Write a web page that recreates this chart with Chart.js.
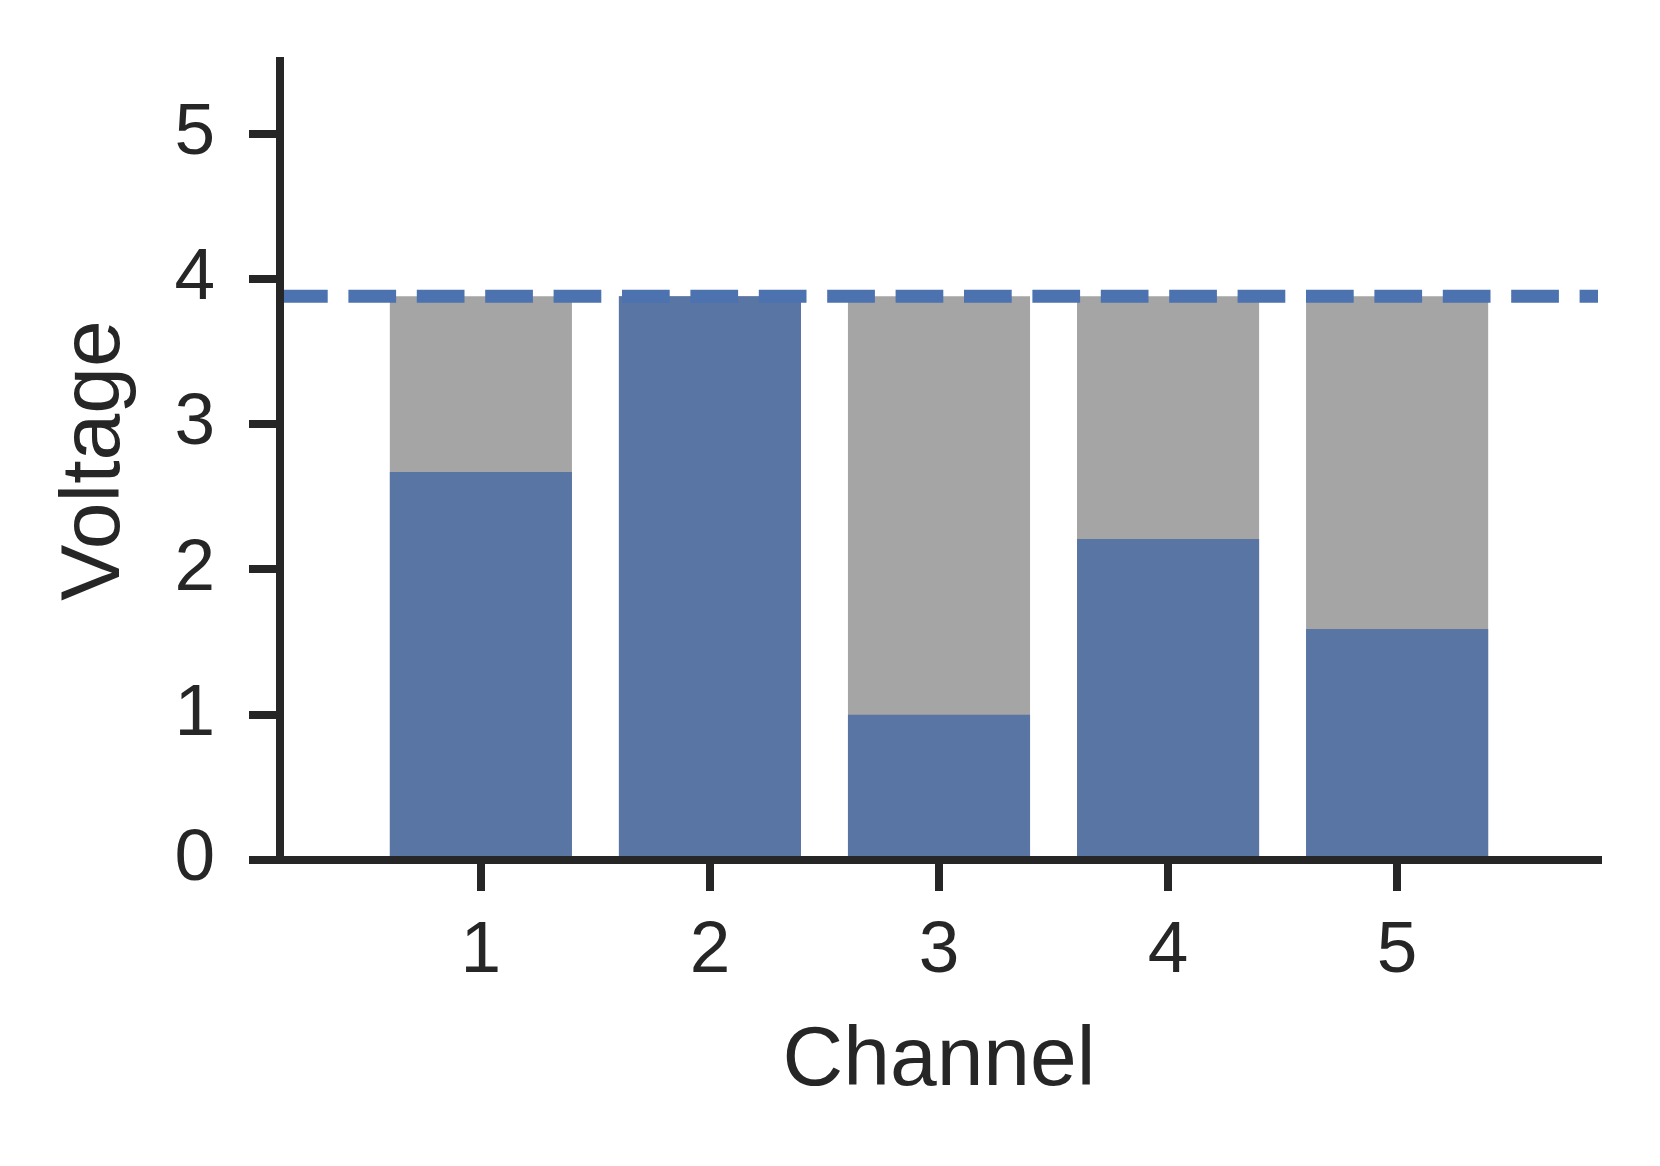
<!DOCTYPE html>
<html>
<head>
<meta charset="utf-8">
<script src="https://cdn.jsdelivr.net/npm/chart.js@4/dist/chart.umd.min.js"></script>
<style>
  html, body { margin: 0; padding: 0; background: #ffffff; }
  #wrap { width: 1660px; height: 1166px; }
</style>
</head>
<body>
<div id="wrap"><canvas id="c" width="1660" height="1166"></canvas></div>
<script>
// ---- data ----
const channels = [1, 2, 3, 4, 5];
const channelVoltage = [2.67, 3.88, 1.0, 2.21, 1.59];
const supplyVoltage = [3.88, 3.88, 3.88, 3.88, 3.88];
const thresholdLine = [3.88];
const yTickValues = [0, 1, 2, 3, 4, 5];
const xTickValues = [1, 2, 3, 4, 5];
const xLabel = 'Channel';
const yLabel = 'Voltage';

const INK = '#262626';
const FONT = "'Liberation Sans', Arial, Helvetica, sans-serif";

const thresholdPlugin = {
  id: 'threshold',
  afterDatasetsDraw(chart) {
    const { ctx, chartArea, scales } = chart;
    const py = scales.y.getPixelForValue(thresholdLine[0]);
    ctx.save();
    ctx.strokeStyle = '#4c72b0';
    ctx.lineWidth = 13;
    ctx.lineCap = 'butt';
    ctx.setLineDash([47.7, 20.7]);
    ctx.beginPath();
    ctx.moveTo(chartArea.left, py);
    ctx.lineTo(chartArea.right, py);
    ctx.stroke();
    ctx.restore();
  }
};

new Chart(document.getElementById('c'), {
  type: 'bar',
  data: {
    datasets: [
      {
        label: 'Channel voltage',
        data: channels.map((c, i) => ({ x: c, y: channelVoltage[i] })),
        backgroundColor: '#5975a4',
        borderWidth: 0,
        grouped: false,
        categoryPercentage: 1.0,
        barPercentage: 0.795
      },
      {
        label: 'Supply',
        data: channels.map((c, i) => ({ x: c, y: supplyVoltage[i] })),
        backgroundColor: '#a5a5a5',
        borderWidth: 0,
        grouped: false,
        categoryPercentage: 1.0,
        barPercentage: 0.795
      }
    ]
  },
  options: {
    responsive: false,
    devicePixelRatio: 1,
    animation: false,
    layout: { padding: { top: 61, right: 62, left: 0, bottom: 0 } },
    plugins: { legend: { display: false }, tooltip: { enabled: false } },
    scales: {
      x: {
        type: 'linear',
        position: 'bottom',
        min: 0.123,
        max: 5.877,
        offset: false,
        afterBuildTicks: (s) => { s.ticks = xTickValues.map(v => ({ value: v })); },
        afterFit: (s) => { s.height = 306; s.paddingLeft = 0; s.paddingRight = 0; },
        ticks: {
          color: INK,
          padding: 17,
          font: { family: FONT, size: 73 },
          maxRotation: 0,
          autoSkip: false,
          callback: (v) => String(v)
        },
        grid: {
          display: true,
          offset: false,
          drawOnChartArea: false,
          drawTicks: true,
          tickLength: 31,
          tickWidth: 8,
          tickColor: INK,
          lineWidth: 8,
          color: INK
        },
        border: { display: true, color: INK, width: 8, z: 1 },
        title: {
          display: true,
          text: xLabel,
          color: INK,
          font: { family: FONT, size: 84, lineHeight: 1 },
          padding: { top: 0, bottom: 62 }
        }
      },
      y: {
        type: 'linear',
        position: 'left',
        min: 0,
        max: 5.5,
        afterBuildTicks: (s) => { s.ticks = yTickValues.map(v => ({ value: v })); },
        afterFit: (s) => { s.width = 280; s.paddingTop = 0; s.paddingBottom = 0; },
        ticks: {
          color: INK,
          padding: 34,
          font: { family: FONT, size: 73 },
          callback: (v) => String(v)
        },
        grid: {
          display: true,
          offset: false,
          drawOnChartArea: false,
          drawTicks: true,
          tickLength: 31,
          tickWidth: 8,
          tickColor: INK,
          lineWidth: 8,
          color: INK
        },
        border: { display: true, color: INK, width: 8, z: 1 },
        title: {
          display: true,
          text: yLabel,
          color: INK,
          font: { family: FONT, size: 84, lineHeight: 1 },
          padding: { top: 54, bottom: 0 }
        }
      }
    }
  },
  plugins: [thresholdPlugin]
});
</script>
</body>
</html>
